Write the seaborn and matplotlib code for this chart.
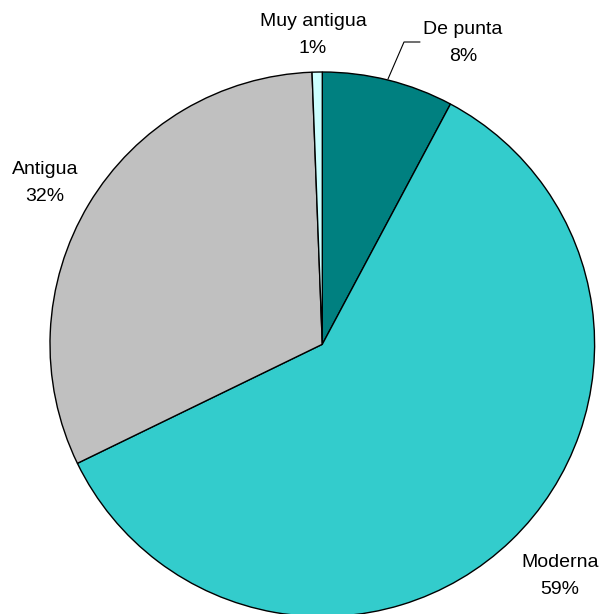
import matplotlib
matplotlib.use('Agg')
import matplotlib.pyplot as plt
import seaborn as sns

# Data
categories = ['De punta', 'Moderna', 'Antigua', 'Muy antigua']
values = [7.8, 60.0, 31.6, 0.6]
pct_labels = ['8%', '59%', '32%', '1%']
colors = ['#008080', '#33CCCC', '#C0C0C0', '#CCFFFF']

sns.set_style('white')
plt.rcParams['font.family'] = ['Liberation Sans', 'DejaVu Sans']

W, H = 600, 614
cx, cy, r = 322.3, 344.3, 272.3
lim = 1.05

fig = plt.figure(figsize=(W / 100, H / 100), dpi=100)
half = r * lim
ax = fig.add_axes([(cx - half) / W, (H - cy - half) / H, 2 * half / W, 2 * half / H])

ax.pie(values, colors=colors, startangle=90, counterclock=False,
       wedgeprops={'edgecolor': 'black', 'linewidth': 1.0})
ax.set_xlim(-lim, lim)
ax.set_ylim(-lim, lim)
ax.axis('off')


def to_data(px, py):
    return (px - cx) / r, (cy - py) / r


# Label positions (pixel positions in reference)
label_pos = {
    'De punta': (463, 43),
    'Moderna': (560, 576),
    'Antigua': (45, 183),
    'Muy antigua': (313, 35),
}
for cat, pct in zip(categories, pct_labels):
    x, y = to_data(*label_pos[cat])
    ax.text(x, y, f'{cat}\n{pct}', ha='center', va='center', fontsize=14,
            linespacing=1.7, color='black')

# leader line for "De punta"
pts = [to_data(388, 79), to_data(404, 42), to_data(420, 42)]
ax.plot([p[0] for p in pts], [p[1] for p in pts], color='black', lw=0.8,
        clip_on=False)

fig.savefig('out.png', dpi=100, facecolor='white')
